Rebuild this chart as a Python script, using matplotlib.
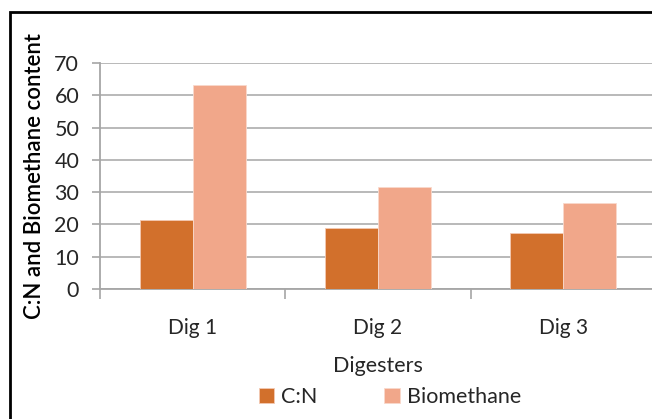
import numpy as np
import matplotlib.pyplot as plt
from matplotlib.patches import Rectangle

categories = ["Dig 1", "Dig 2", "Dig 3"]
cn_values = [21.5, 18.9, 17.5]
biomethane_values = [63.1, 31.6, 26.5]
series_names = ["C:N", "Biomethane"]
y_ticks = [0, 10, 20, 30, 40, 50, 60, 70]

plt.rcParams["font.family"] = ["Lato", "DejaVu Sans"]

W, H = 652, 419
fig = plt.figure(figsize=(W / 100, H / 100), dpi=100, facecolor="white")

# black frame round the chart (cut off at right and bottom like the source)
fig.add_artist(Rectangle((10 / W, -0.05), 1.1, 1 - 12 / H + 0.05,
                         transform=fig.transFigure, fill=False,
                         edgecolor="black", linewidth=2.0))

ax = fig.add_axes([100 / W, 130 / H, 556 / W, 226 / H])
x = np.arange(len(categories))
w = 0.286
ax.bar(x - w / 2, cn_values, w, color="#D2702C", edgecolor="#F3C9B3",
       linewidth=0.6, label=series_names[0], zorder=3)
ax.bar(x + w / 2, biomethane_values, w, color="#F1A78A", edgecolor="#F9D9CC",
       linewidth=0.6, label=series_names[1], zorder=3)

ax.set_xlim(-0.5, 2.5)
ax.set_ylim(0, 70)
ax.set_yticks(y_ticks)
ax.grid(axis="y", color="#b3b3b3", linewidth=1.3, zorder=0)
for s in ["top", "right"]:
    ax.spines[s].set_visible(False)
for s in ["left", "bottom"]:
    ax.spines[s].set_color("#a6a6a6")
    ax.spines[s].set_linewidth(1.3)

ax.set_xticks(x)
ax.set_xticklabels(categories)
ax.set_xticks([-0.5, 0.5, 1.5, 2.5], minor=True)
ax.tick_params(axis="x", which="major", length=0, pad=21, labelsize=15,
               labelcolor="#262626")
ax.tick_params(axis="x", which="minor", length=7, width=1.2, color="#a6a6a6",
               direction="out")
ax.tick_params(axis="y", length=6, width=1.2, color="#a6a6a6", pad=9,
               labelsize=15.5, labelcolor="#262626")

ax.set_xlabel("Digesters", fontsize=15.5, color="#262626", labelpad=12.5)
ax.set_ylabel("C:N and Biomethane content", fontsize=16,
              fontweight="semibold", color="black", labelpad=7)

handles, labels = ax.get_legend_handles_labels()
fig.legend(handles, labels, loc="center", bbox_to_anchor=(390 / W, 1 - 397 / H),
           ncol=2, frameon=False, fontsize=15.5, handlelength=0.7,
           handleheight=0.7, handletextpad=0.35, columnspacing=3.1,
           labelcolor="#262626")

fig.savefig("out.png", dpi=100, facecolor="white")
